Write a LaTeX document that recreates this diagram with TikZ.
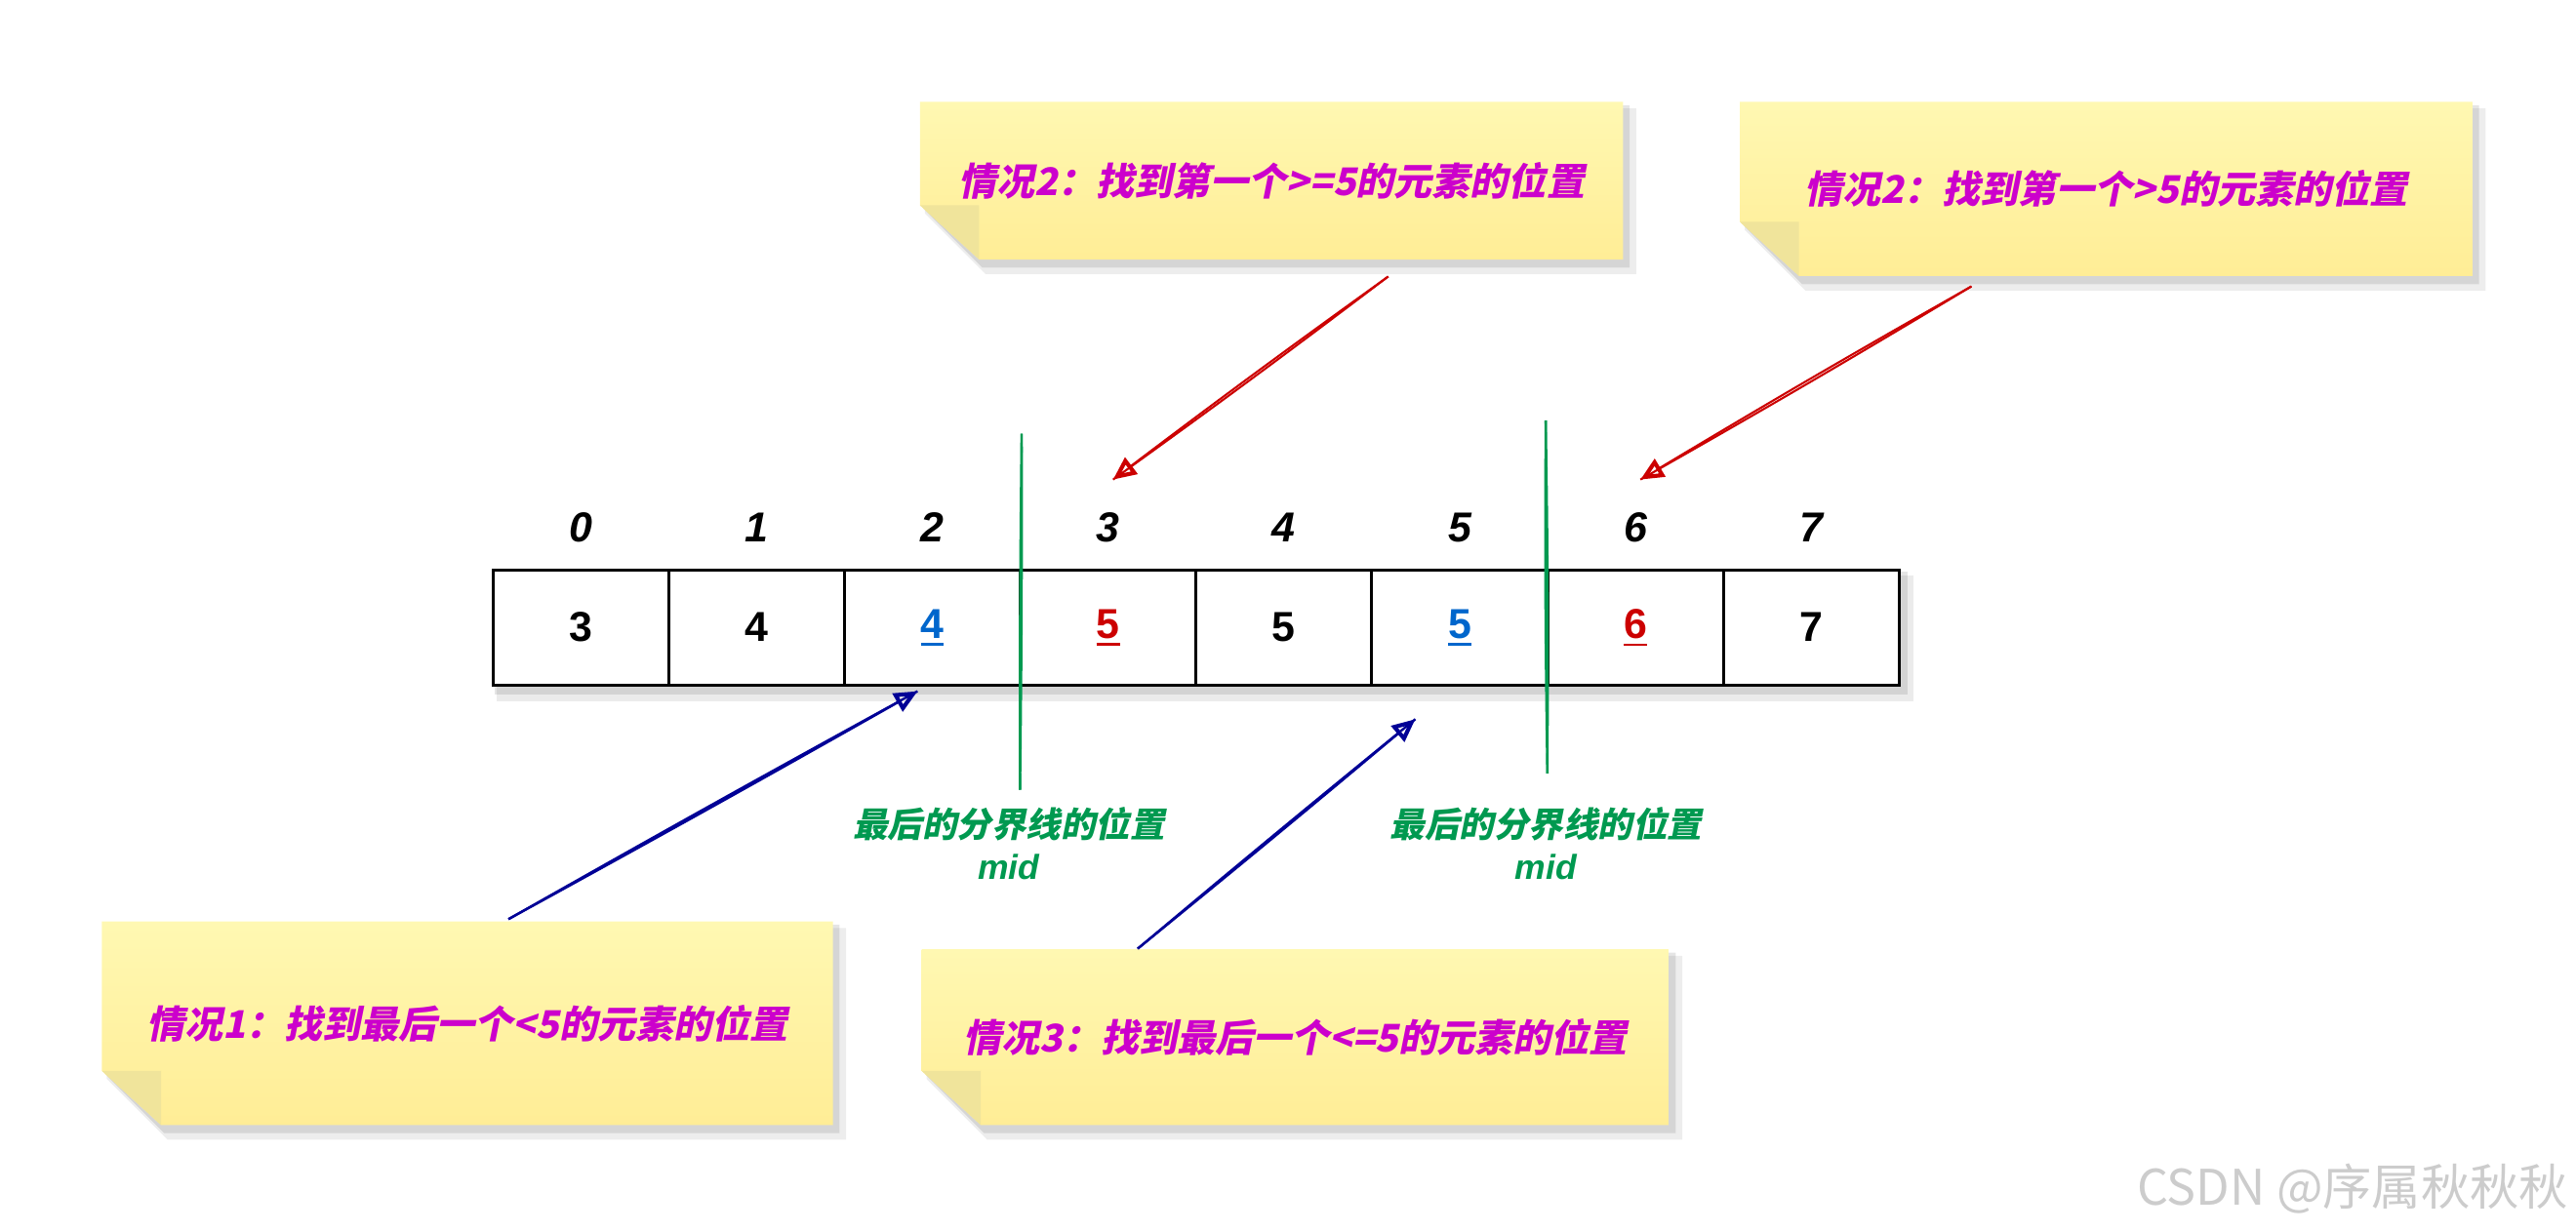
\documentclass[tikz,border=0pt]{standalone}
\usepackage{fontspec}
\setmainfont{Liberation Sans}
\newfontfamily\cjk{Noto Sans CJK SC}
\newfontfamily\cjkslant[FakeSlant=0.2]{Noto Sans CJK SC}
\usetikzlibrary{arrows.meta,backgrounds}
\definecolor{notemag}{RGB}{204,0,204}
\definecolor{numblue}{RGB}{0,102,204}
\definecolor{numred}{RGB}{204,0,0}
\definecolor{midgreen}{RGB}{0,153,80}
\definecolor{arrred}{RGB}{204,0,0}
\definecolor{arrblue}{RGB}{0,0,150}
\definecolor{notetop}{RGB}{255,248,178}
\definecolor{notebot}{RGB}{255,237,150}
\definecolor{noteflap}{RGB}{240,228,155}
\newcommand\numul[1]{\setbox0\hbox{#1}\rlap{\rule[-2.6pt]{\wd0}{0.8pt}}\box0}

\begin{document}
\begin{tikzpicture}[x=0.02cm, y=-0.02cm,
  cell/.style={draw, line width=1pt, fill=white, minimum width=2.14cm, minimum height=1.4cm, inner sep=0pt, font=\fontsize{14.5}{16}\selectfont\bfseries},
  idx/.style={font=\fontsize{14.5}{16}\selectfont\bfseries\itshape},
  notetext/.style={text=notemag, inner sep=0pt, font=\fontsize{13.2}{16}\selectfont\cjkslant\bfseries},
  midlabel/.style={text=midgreen, font=\fontsize{12}{14}\selectfont\cjkslant\bfseries},
  redline/.style={draw=arrred, line width=0.7pt},
  blueline/.style={draw=arrblue, line width=0.8pt},
  greenline/.style={draw=midgreen, line width=0.8pt},
  arrowhd/.style={-{Triangle[open, length=8pt, width=7pt, line width=1.4pt]}}
]
\useasboundingbox (0,0) rectangle (1568,750);

% sticky notes
\foreach \nm/\xa/\ya/\xb/\yb/\txt in {
  nA/560/62/988/158/{情况2：找到第一个>=5的元素的位置},
  nB/1059/62/1505/168/{情况2：找到第一个>5的元素的位置},
  nC/62/561/507/685/{情况1：找到最后一个<5的元素的位置},
  nD/561/578/1016/685/{情况3：找到最后一个<=5的元素的位置}}{
  \fill[black, opacity=0.07] (\xa+3,\ya+4) -- (\xb+8,\ya+4) -- (\xb+8,\yb+9) -- (\xa+40,\yb+9) -- (\xa+3,\yb-28) -- cycle;
  \fill[black, opacity=0.1] (\xa+2,\ya+2) -- (\xb+4,\ya+2) -- (\xb+4,\yb+5) -- (\xa+38,\yb+5) -- (\xa+2,\yb-31) -- cycle;
  \shade[top color=notetop, bottom color=notebot] (\xa,\ya) -- (\xb,\ya) -- (\xb,\yb) -- (\xa+36,\yb) -- (\xa,\yb-33) -- cycle;
  \fill[noteflap] (\xa,\yb-33) -- (\xa+36,\yb-33) -- (\xa+36,\yb) -- cycle;
  \node[notetext, minimum width={(\xb-\xa)*0.02cm}, minimum height={(\yb-\ya)*0.02cm}] (\nm) at ({(\xa+\xb)/2},{(\ya+\yb)/2}) {\txt};
}

% array
\foreach \i/\v/\c in {0/3/black, 1/4/black, 2/{\numul{4}}/numblue, 3/{\numul{5}}/numred,
                      4/5/black, 5/{\numul{5}}/numblue, 6/{\numul{6}}/numred, 7/7/black}{
  \node[cell, text=\c] (c\i) at ({353.5+107*\i},382) {\v};
  \node[idx] (i\i) at ({353.5+107*\i},321) {\i};
}
\begin{scope}[on background layer]
  \fill[black, opacity=0.08] ([shift={(3,4)}]c0.north west) rectangle ([shift={(8,9)}]c7.south east);
  \fill[black, opacity=0.1] ([shift={(2,2)}]c0.north west) rectangle ([shift={(4,5)}]c7.south east);
\end{scope}

% dividing lines
\draw[greenline] ([shift={(0,-82)}]c2.north east) to[bend left=0.4] ([shift={(-1,63)}]c2.south east);
\draw[greenline] ([shift={(0,-82)}]c2.north east) to[bend right=0.4] ([shift={(-1,63)}]c2.south east);
\draw[greenline] ([shift={(-2,-90)}]c5.north east) to[bend left=0.6] ([shift={(-1,53)}]c5.south east);
\draw[greenline] ([shift={(-2,-90)}]c5.north east) to[bend right=0.6] ([shift={(-1,53)}]c5.south east);
\node[midlabel] (g1) at (614,502) {最后的分界线的位置};
\node[text=midgreen, font=\fontsize{12}{14}\selectfont\bfseries\itshape] (m1) at (614,528) {mid};
\node[midlabel] (g2) at (941,502) {最后的分界线的位置};
\node[text=midgreen, font=\fontsize{12}{14}\selectfont\bfseries\itshape] (m2) at (941,528) {mid};

% arrows
\draw[redline] ([shift={(71,10)}]nA.south) to[bend left=0.7] ([shift={(3,-29)}]i3.center);
\draw[redline, arrowhd] ([shift={(71,10)}]nA.south) to[bend right=0.7] ([shift={(3,-29)}]i3.center);
\draw[redline] ([shift={(-82,6)}]nB.south) to[bend left=0.7] ([shift={(3,-29)}]i6.center);
\draw[redline, arrowhd] ([shift={(-82,6)}]nB.south) to[bend right=0.7] ([shift={(3,-29)}]i6.center);
\draw[blueline] ([shift={(25,-1)}]nC.north) to[bend left=0.4] ([shift={(-9,3)}]c2.south);
\draw[blueline, arrowhd] ([shift={(25,-1)}]nC.north) to[bend right=0.4] ([shift={(-9,3)}]c2.south);
\draw[blueline] ([shift={(-96,0)}]nD.north) to[bend left=0.4] ([shift={(-27,20)}]c5.south);
\draw[blueline, arrowhd] ([shift={(-96,0)}]nD.north) to[bend right=0.4] ([shift={(-27,20)}]c5.south);

\node[text=black!20, font=\fontsize{17}{20}\selectfont\cjk] (wm) at (1432,724) {CSDN @序属秋秋秋};
\end{tikzpicture}
\end{document}
